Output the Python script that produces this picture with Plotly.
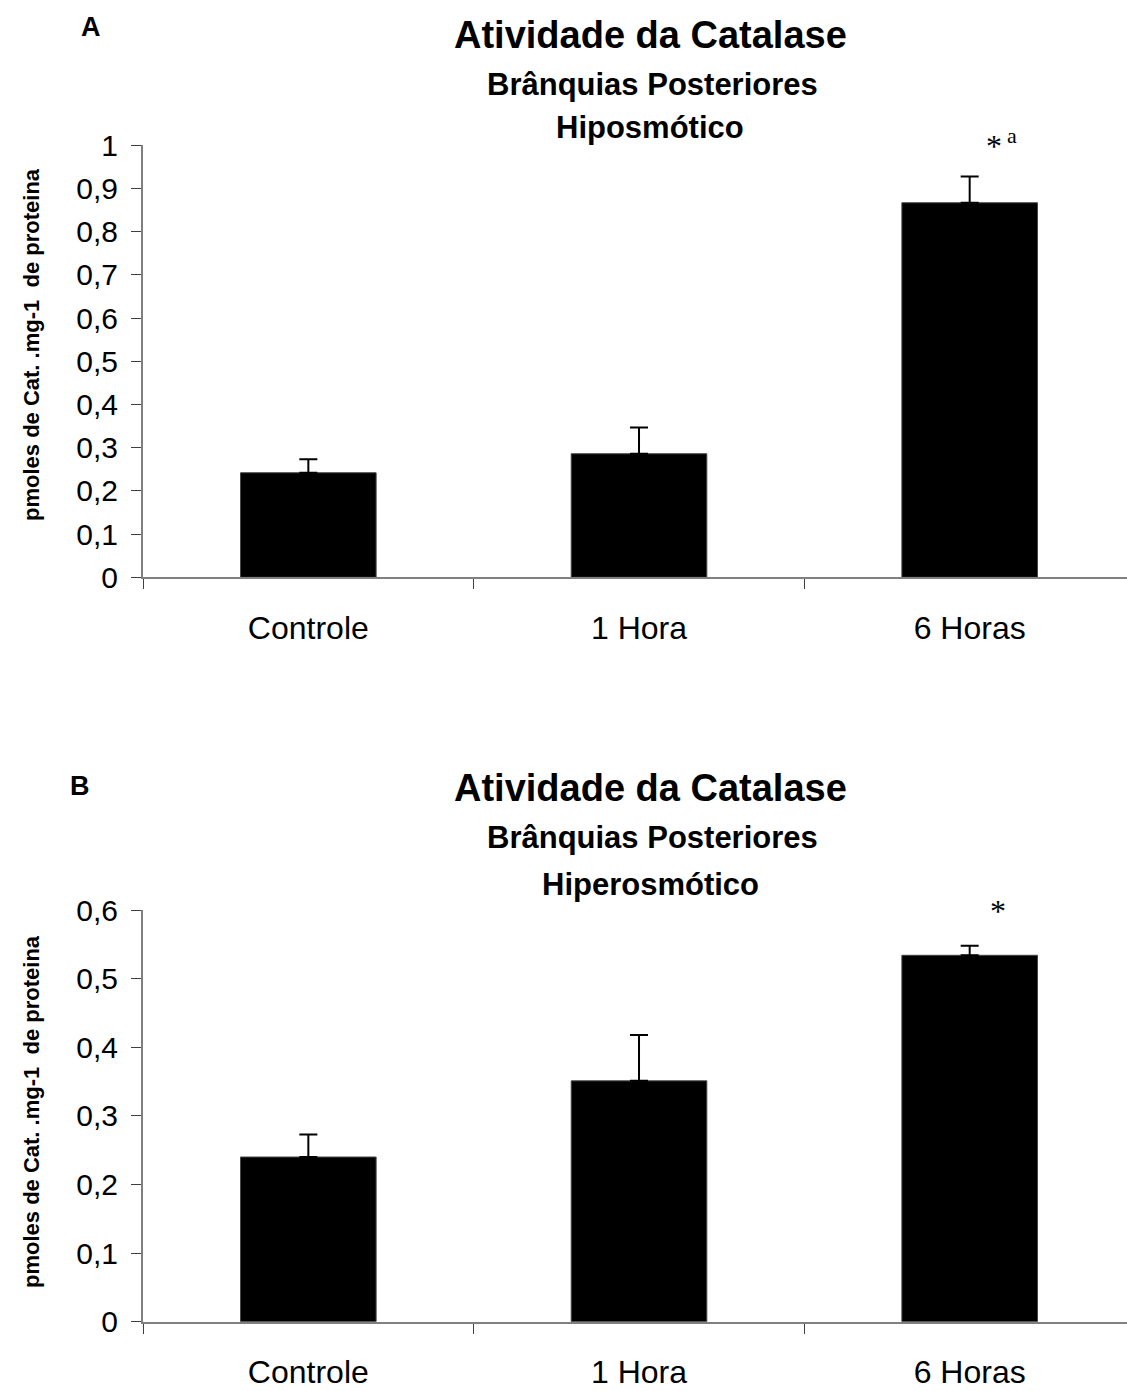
import plotly.graph_objects as go

categories = ["Controle", "1 Hora", "6 Horas"]

# Panel A - Hiposmótico
a_values = [0.242, 0.286, 0.867]
a_errors = [0.031, 0.061, 0.061]
# Panel B - Hiperosmótico
b_values = [0.240, 0.351, 0.534]
b_errors = [0.033, 0.067, 0.014]

a_marks = ["", "", "*"]
b_marks = ["", "", "*"]

W, H = 1127, 1391
FONT = "Liberation Sans, Arial, sans-serif"
SERIF = "Liberation Serif, Times New Roman, serif"

fig = go.Figure()

def bars(vals, errs, xa, ya):
    return go.Bar(
        x=categories, y=vals, xaxis=xa, yaxis=ya, width=0.41,
        marker=dict(color="black", line=dict(color="#444", width=1)),
        error_y=dict(type="data", symmetric=False, array=errs,
                     arrayminus=[0] * len(errs), color="black",
                     thickness=2, width=9),
        showlegend=False, hoverinfo="skip",
    )

fig.add_trace(bars(a_values, a_errors, "x", "y"))
fig.add_trace(bars(b_values, b_errors, "x2", "y2"))

left = 143 / W
xr = [-0.5, 2.5 - (1135 - W) / 330]

def xaxis(anchor):
    return dict(domain=[left, 1], range=xr, anchor=anchor, automargin=False,
                showline=True, linecolor="#808080", linewidth=2,
                ticks="outside", ticklen=10, tickcolor="#404040", tickwidth=1,
                tickson="boundaries", showgrid=False, zeroline=False,
                tickfont=dict(family=FONT, size=32, color="black"),
                ticklabelstandoff=21)

def yaxis(anchor, dom, rng):
    return dict(domain=dom, range=rng, anchor=anchor, dtick=0.1, automargin=False,
                showline=True, linecolor="#808080", linewidth=2,
                ticks="outside", ticklen=10, tickcolor="#404040", tickwidth=1,
                showgrid=False, zeroline=False,
                tickfont=dict(family=FONT, size=30, color="black"),
                ticklabelstandoff=7)

fig.update_layout(
    width=W, height=H, margin=dict(l=0, r=0, t=0, b=0, pad=0, autoexpand=False),
    paper_bgcolor="white", plot_bgcolor="white",
    separators=",.",
    xaxis=xaxis("y"),
    yaxis=yaxis("x", [1 - 577.3 / H, 1 - 145.3 / H], [0, 1]),
    xaxis2=xaxis("y2"),
    yaxis2=yaxis("x2", [1 - 1321.7 / H, 1 - 910 / H], [0, 0.6]),
)

ann = []
def txt(x, y, s, size, bold=True, family=FONT, angle=0):
    ann.append(dict(xref="paper", yref="paper", x=x / W, y=1 - y / H,
                    text=f"<b>{s}</b>" if bold else s, showarrow=False,
                    font=dict(family=family, size=size, color="black"),
                    xanchor="center", yanchor="middle", textangle=angle))

txt(91, 27, "A", 27)
txt(650, 35, "Atividade da Catalase", 38)
txt(652, 84, "Brânquias Posteriores", 31)
txt(650, 128, "Hiposmótico", 31)
txt(31, 345, "pmoles de Cat. .mg-1  de proteina", 22, angle=-90)

txt(80, 786, "B", 27)
txt(650, 788, "Atividade da Catalase", 38)
txt(652, 838, "Brânquias Posteriores", 31)
txt(650, 884, "Hiperosmótico", 31)
txt(31, 1112, "pmoles de Cat. .mg-1  de proteina", 22, angle=-90)

# significance marks above error bars
for i, m in enumerate(a_marks):
    if m:
        ann.append(dict(xref="x", yref="y", x=categories[i], y=a_values[i] + a_errors[i],
                        text=m, showarrow=False, xshift=24, yshift=30,
                        font=dict(family=SERIF, size=32, color="black")))
        ann.append(dict(xref="x", yref="y", x=categories[i], y=a_values[i] + a_errors[i],
                        text="a", showarrow=False, xshift=42, yshift=41,
                        font=dict(family=SERIF, size=22, color="black")))
for i, m in enumerate(b_marks):
    if m:
        ann.append(dict(xref="x2", yref="y2", x=categories[i], y=b_values[i] + b_errors[i],
                        text=m, showarrow=False, xshift=28, yshift=35,
                        font=dict(family=SERIF, size=32, color="black")))

fig.update_layout(annotations=ann)
fig.write_html("out.html")
